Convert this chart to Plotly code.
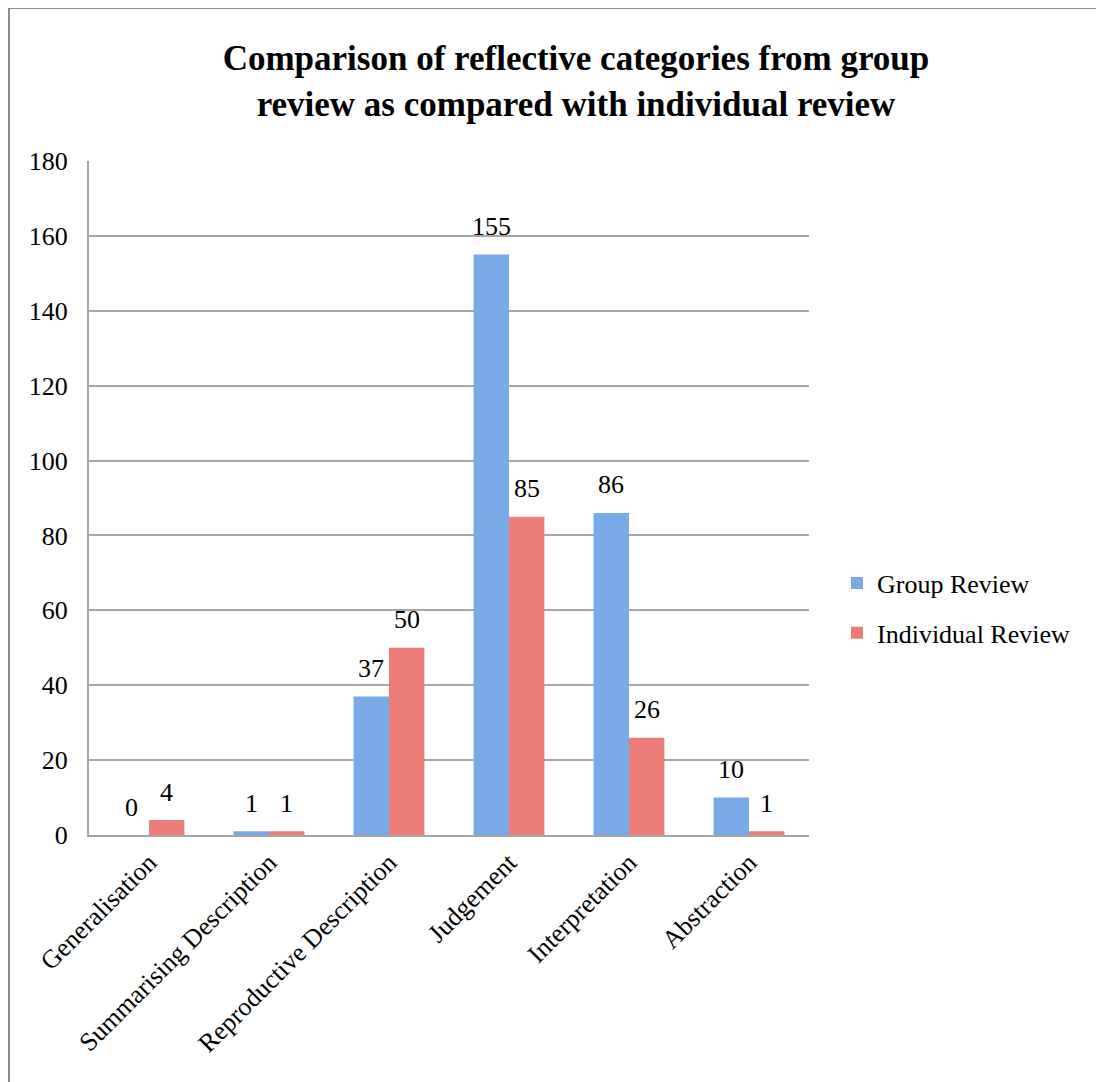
import plotly.graph_objects as go

categories = ["Generalisation", "Summarising Description", "Reproductive Description",
              "Judgement", "Interpretation", "Abstraction"]
group_review = [0, 1, 37, 155, 86, 10]
individual_review = [4, 1, 50, 85, 26, 1]
y_ticks = [0, 20, 40, 60, 80, 100, 120, 140, 160, 180]

FONT = "Liberation Serif"
BLUE = "#78AAEA"
RED = "#EC7D76"
BARGAP = 0.41

# page has an 8px body margin; positions below are in figure pixels
OFF = 8
W, H = 1104 - OFF, 1082 - OFF
L, R, T, B = 89 - OFF, 809 - OFF, 161 - OFF, 835 - OFF

def px_x(p):
    return (p - L) / (R - L)

def px_y(p):
    return (B - p) / (B - T)

fig = go.Figure()
fig.add_trace(go.Bar(
    name="Group Review", x=categories, y=group_review,
    marker=dict(color=BLUE, line=dict(width=0)), legendgroup="g1",
))
fig.add_trace(go.Bar(
    name="Individual Review", x=categories, y=individual_review,
    marker=dict(color=RED, line=dict(width=0)), legendgroup="g2",
))

# value labels above each bar
cat_px = (R - L) / len(categories)
bar_px = cat_px * (1 - BARGAP) / 2
annotations = []
for series, shift in ((group_review, -bar_px / 2), (individual_review, bar_px / 2)):
    for c, v in zip(categories, series):
        annotations.append(dict(
            x=c, y=v, xref="x", yref="y", text=str(v), showarrow=False,
            xshift=shift, yshift=28, xanchor="center", yanchor="middle",
            font=dict(family=FONT, size=26, color="black"),
        ))

fig.update_layout(
    width=W, height=H,
    margin=dict(l=L, r=W - R, t=T, b=H - B, autoexpand=False),
    paper_bgcolor="white", plot_bgcolor="white",
    barmode="group", bargap=BARGAP, bargroupgap=0,
    font=dict(family=FONT, size=26, color="black"),
    title=dict(
        text="Comparison of reflective categories from group<br>review as compared with individual review",
        x=(576 - OFF) / W, xanchor="center", y=1 - 62 / H, yanchor="middle",
        font=dict(family=FONT, size=35, color="black", weight=700),
    ),
    legend=dict(
        x=px_x(829), xanchor="left", y=px_y(600), yanchor="middle",
        font=dict(family=FONT, size=26, color="black"),
        bgcolor="rgba(0,0,0,0)", tracegroupgap=13,
        itemclick=False,
    ),
    xaxis=dict(
        showgrid=False, showline=True, linecolor="#A6A6A6", linewidth=2,
        tickangle=-45, ticks="", ticklabelstandoff=0,
        tickfont=dict(family=FONT, size=26, color="black"),
    ),
    yaxis=dict(
        range=[0, 180], tickvals=y_ticks, showgrid=True, gridcolor="#A6A6A6",
        gridwidth=2, showline=True, linecolor="#A6A6A6", linewidth=2,
        ticks="", ticklabelstandoff=14, zeroline=False,
        tickfont=dict(family=FONT, size=26, color="black"),
    ),
    annotations=annotations,
    shapes=[dict(
        type="rect", xref="paper", yref="paper",
        x0=px_x(1), y0=px_y(H + 20), x1=px_x(W + 20), y1=px_y(0),
        line=dict(color="#8C8C8C", width=2), fillcolor="rgba(0,0,0,0)", layer="below",
    )],
)

fig.write_html("out.html")
